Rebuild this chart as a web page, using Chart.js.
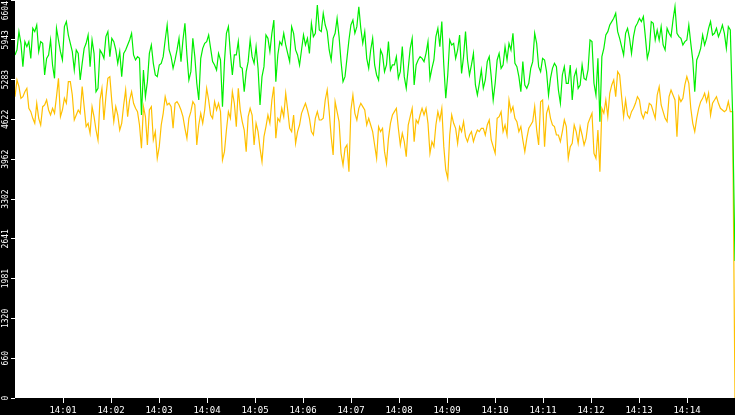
<!DOCTYPE html>
<html>
<head>
<meta charset="utf-8">
<script src="https://cdn.jsdelivr.net/npm/chart.js@4/dist/chart.umd.min.js"></script>
<style>
  html,body{margin:0;padding:0;background:#000;}
  #wrap{width:735px;height:415px;position:relative;}
</style>
</head>
<body>
<div id="wrap"><canvas id="c"></canvas></div>
<script>
// y axis ticks (value, label)
const yTicks = [0, 660.4, 1320.8, 1981.2, 2641.6, 3302, 3962.4, 4622.8, 5283.2, 5943.6, 6604];
const yTickLabels = ['0','660','1320','1981','2641','3302','3962','4622','5283','5943','6604'];
// x axis ticks, seconds after 14:00
const xTickSecs = [60,120,180,240,300,360,420,480,540,600,660,720,780,840];
const xTickLabels = ['14:01','14:02','14:03','14:04','14:05','14:06','14:07','14:08','14:09','14:10','14:11','14:12','14:13','14:14'];

// green series, a sample about every 2.5 s
const greenVals = [
  5692,5775,6079,5885,5498,5913,5830,5913,5636,6134,6079,6189,5747,5913,5885,5360,5636,5692,5940,5526,5304,6134,5940,5747,5609,6162,
  6245,6023,5885,5747,5443,5775,5719,5277,5553,5802,5885,6023,5498,5940,5719,5083,5139,5775,5719,5636,5996,6079,5664,5968,5913,5775,
  5553,5747,5332,5719,5775,5858,5940,6051,5692,5609,5664,5636,4696,5443,5000,5249,5719,5858,5553,5360,5332,5526,5553,5664,5940,6189,
  5775,5664,5470,5609,5775,5968,5581,5940,6217,5692,5277,5415,5968,5664,5222,4945,5636,5802,5885,5913,6023,5802,5581,5526,5443,5719,
  5609,4834,5581,6051,6162,5719,5360,5692,5692,5913,5498,5470,5083,5415,5581,5940,5664,5553,5830,5470,4862,5332,5498,6023,5968,5747,
  6051,6272,5249,5692,5913,5858,6051,5858,5719,5581,6162,6051,5775,5692,5526,5775,6023,5858,5968,5719,6217,5996,6051,6521,6106,6079,
  6383,6189,6079,5775,5609,5968,6051,6300,5996,5581,5249,5332,5636,5940,6189,6272,6051,6162,6493,6134,5885,6079,5636,5470,5775,5968,
  5526,5360,5277,5775,5692,5415,5526,5913,5443,5526,5526,5664,5304,5415,5830,5332,5139,5470,5802,5968,5194,5526,5609,5664,5636,5581,
  5719,5913,5304,5470,5609,5996,6134,5830,6245,5526,4973,5360,5940,5858,5885,5636,5775,6023,5387,5664,6079,5609,5360,5526,5719,5194,
  5028,5222,5443,5139,5277,5581,5664,5332,4945,5222,5609,5719,5470,5526,5830,5609,5885,5775,6051,5553,5498,5332,5083,5581,5194,5139,
  5222,5470,5581,6051,5885,5498,5415,5636,5609,5415,5028,5304,5470,5553,5498,5111,4890,5360,5498,5222,5222,5526,4945,5332,5443,5139,
  5194,5526,5304,5277,5443,5940,5913,5222,5028,5636,4586,5664,5802,6023,6079,6189,6245,6300,6383,6079,5968,5830,5692,6051,6134,5968,
  5719,5996,6162,6217,6300,6245,6328,5996,5636,5775,6245,6217,5940,6106,5940,6162,5858,5775,6134,6051,5996,6272,6493,6051,5996,5968,
  5858,5913,5940,6189,5885,5609,5083,5609,5692,5802,6023,5858,5968,6134,6245,6023,6051,6134,5996,6079,6189,6051,5802,6162,6106,
  4724,2273
];
// yellow series
const yellowVals = [
  5000,5277,5166,4973,5000,5083,5139,4807,4751,4641,4558,4890,4641,4530,4834,4862,4945,4779,4696,4807,4724,5000,5304,4668,4779,4973,
  4890,5249,5249,5028,4613,4696,4779,4724,5166,4834,4503,4558,4392,4834,4668,4447,4281,4945,5139,4613,5000,5304,5332,4917,4586,4834,
  4696,4447,4558,4862,5111,4668,4945,5083,4890,4807,4751,4530,4143,4834,4668,4198,4779,4834,4281,4420,3977,4171,4530,4724,5000,4862,
  4890,4834,4475,4890,4917,4862,4779,4668,4475,4309,4641,4751,4917,4862,4198,4530,4724,4558,4779,5139,4945,4696,4641,4917,4779,4890,
  4751,3950,4088,4447,4751,4641,5083,4890,4503,5139,4779,4586,4447,4088,4668,4807,4696,4198,4558,4420,4143,3922,4337,4503,4696,4558,
  4945,5166,4309,4641,4586,4807,4668,5056,4779,4475,4420,4696,4226,4420,4530,4724,4807,4890,4779,4641,4420,4364,4641,4751,4613,4613,
  4641,4945,5111,4751,4337,4033,4917,4751,4586,4060,3867,4143,4198,3756,4779,5028,4724,4613,4807,4890,4834,4779,4530,4641,4530,4420,
  4198,3977,4503,4420,4475,4088,3894,4309,4558,4696,4751,4807,4475,4198,4392,4254,4005,4530,4668,4807,4254,4613,4558,4696,4807,4696,
  4807,4558,4060,4254,4171,4530,4751,4613,4807,4171,3784,3645,4364,4696,4558,4475,4226,4503,4420,4586,4337,4254,4364,4420,4254,4364,
  4447,4420,4475,4475,4364,4530,4613,4281,4171,4060,4641,4668,4751,4420,4530,4364,4945,4751,4834,4641,4586,4420,4503,4281,4088,4309,
  4475,4530,4586,4834,4447,4198,4917,4945,4171,4724,4834,4641,4530,4503,4364,4364,4254,4420,4613,4503,3977,4171,4226,4530,4420,4226,
  4503,4364,4198,4309,4558,4641,4724,4060,3977,4447,3756,4807,4724,4945,4668,5056,5194,5277,5000,5415,5360,5000,4668,4945,4696,4641,
  4751,4807,4890,5000,4945,4724,4641,4751,4724,4890,4862,4751,4641,5028,5166,4862,4751,4641,4586,5000,5111,5028,4945,4337,5000,4917,
  4972,5194,5332,5222,4807,4558,4420,4641,4807,4917,4972,5056,4917,5056,4696,4890,4945,5000,4890,4807,4779,4751,4779,4917,4751,
  4751,0
];

// sample times in seconds: regular step, then the two closing samples
const STEP = 2.47;
const sampleSecs = greenVals.slice(0, -2).map((_, i) => i * STEP).concat([897, 900]);
const toPts = vals => vals.map((v, i) => ({x: sampleSecs[i], y: v}));

const bgPlugin = {
  id: 'bg',
  beforeDraw(chart) {
    const {ctx, chartArea: a, width, height} = chart;
    ctx.save();
    ctx.fillStyle = '#000';
    ctx.fillRect(0, 0, width, height);
    ctx.fillStyle = '#fff';
    ctx.fillRect(a.left, a.top, a.right - a.left, a.bottom - a.top);
    ctx.restore();
  },
  afterDraw(chart) {
    // vertical y labels
    const {ctx, height} = chart;
    const ys = chart.scales.y;
    ctx.save();
    ctx.fillStyle = '#fff';
    ctx.font = '8px "DejaVu Sans Mono"';
    ctx.textAlign = 'center';
    ctx.textBaseline = 'alphabetic';
    yTicks.forEach((v, i) => {
      const txt = yTickLabels[i];
      const w = ctx.measureText(txt).width;
      let cy = ys.getPixelForValue(v);
      cy = Math.max(cy, w / 2 + 1);
      cy = Math.min(cy, height - w / 2);
      ctx.save();
      ctx.translate(8, cy);
      ctx.rotate(-Math.PI / 2);
      ctx.fillText(txt, 0, 0);
      ctx.restore();
    });
    ctx.restore();
  }
};

new Chart(document.getElementById('c'), {
  type: 'line',
  data: {
    datasets: [
      {label: 'green', data: toPts(greenVals), borderColor: '#00ee00', borderWidth: 1.2, pointRadius: 0, tension: 0},
      {label: 'yellow', data: toPts(yellowVals), borderColor: '#ffc000', borderWidth: 1.2, pointRadius: 0, tension: 0}
    ]
  },
  options: {
    responsive: true, maintainAspectRatio: false, animation: false, devicePixelRatio: 1,
    layout: {padding: 0},
    plugins: {legend: {display: false}, tooltip: {enabled: false}},
    scales: {
      x: {type: 'linear', min: 0, max: 900,
        afterBuildTicks: s => { s.ticks = xTickSecs.map(v => ({value: v})); },
        afterFit: s => { s.height = 17; },
        grid: {drawOnChartArea: false, drawTicks: true, tickLength: 5, color: '#fff'},
        border: {display: false},
        ticks: {autoSkip: false, maxRotation: 0, color: '#fff', padding: 2,
          font: {family: 'DejaVu Sans Mono', size: 9},
          callback: (v, i) => xTickLabels[i]}},
      y: {type: 'linear', min: 0, max: 6604,
        afterBuildTicks: s => { s.ticks = yTicks.map(v => ({value: v})); },
        afterFit: s => { s.width = 15; },
        grid: {drawOnChartArea: false, drawTicks: true, tickLength: 4, color: '#fff'},
        border: {display: false},
        ticks: {display: false}}
    }
  },
  plugins: [bgPlugin]
});
</script>
</body>
</html>
